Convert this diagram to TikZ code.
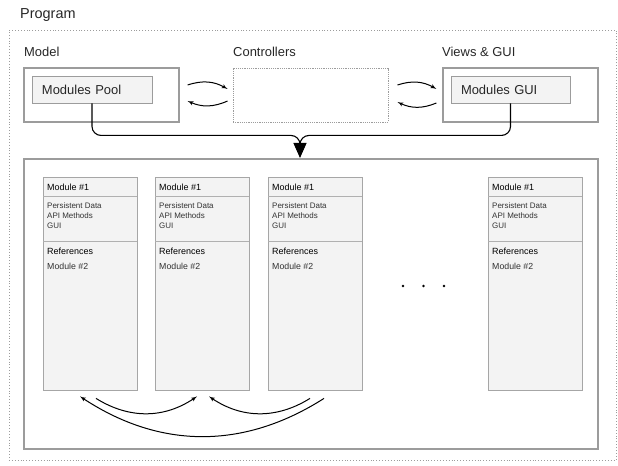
\documentclass[tikz,border=0pt]{standalone}
\usepackage{fontspec}
\setmainfont{Liberation Sans}
\usepackage{tikz}
\usetikzlibrary{arrows,arrows.meta,positioning,shapes,calc}

\definecolor{linegray}{HTML}{9C9C9C}
\definecolor{boxfill}{HTML}{F3F3F3}

\begin{document}
\begin{tikzpicture}[x=1bp,y=1bp,>=latex',auto,
    title/.style={anchor=base west,inner sep=0pt,text=black!85,font=\fontsize{13}{15}\selectfont},
    frame/.style={draw=linegray,line width=1.2bp,minimum width=155bp,minimum height=54bp,inner sep=0pt},
    inner/.style={draw=linegray,fill=boxfill,line width=0.9bp,minimum height=27bp,inner sep=0pt,
      text=black!85,font=\fontsize{13}{15}\selectfont},
    column/.style={draw=linegray!90,fill=boxfill,line width=0.8bp,minimum width=94bp,minimum height=213bp,inner sep=0pt},
    head/.style={anchor=base west,inner sep=0pt,text=black,font=\fontsize{9}{11}\selectfont},
    item/.style={anchor=base west,inner sep=0pt,text=black!80,font=\fontsize{8}{10}\selectfont},
    every edge/.style={draw,->,line width=1bp}]

  \useasboundingbox (0,0) rectangle (618,-466);

  % program frame
  \node[anchor=base west,inner sep=0pt,text=black!85,font=\fontsize{14.5}{16}\selectfont] (program) at (20,-19) {Program};
  \node[draw=linegray,dotted,line width=0.9bp,minimum width=607bp,minimum height=430bp,inner sep=0pt] (prog) at (312.5,-245) {};

  % model, controllers, views
  \node[title] (modeltxt) at (24,-57) {Model};
  \node[frame] (model) at (101.5,-95) {};
  \node[inner,minimum width=120bp,text width=100bp] (pool) at (92,-89.5) {Modules Pool};

  \node[title] (ctrltxt) at (233,-57) {Controllers};
  \node[frame,densely dotted,line width=0.9bp] (ctrl) at (310.5,-95) {};

  \node[title] (viewtxt) at (442,-57) {Views \& GUI};
  \node[frame] (views) at (520.5,-95) {};
  \node[inner,minimum width=119bp,text width=99bp] (gui) at (510.5,-89.5) {Modules GUI};

  \path ([shift={(8,10)}]model.east) edge[bend left=24] ([shift={(-5,6)}]ctrl.west)
        ([shift={(-5,-6)}]ctrl.west) edge[bend left=24] ([shift={(8,-6)}]model.east)
        ([shift={(9,10)}]ctrl.east) edge[bend left=24] ([shift={(-6,6)}]views.west)
        ([shift={(-6,-8)}]views.west) edge[bend left=24] ([shift={(9,-7)}]ctrl.east);

  % modules pool
  \node[draw=linegray,line width=1.4bp,minimum width=574bp,minimum height=290bp,inner sep=0pt] (modules) at (311,-304) {};
  \coordinate (join) at (300,-158);
  \coordinate (neck) at (300,-144);

  \draw[line width=1.1bp,rounded corners=9bp] (pool.south) -- ++(0,-32) -| (neck);
  \draw[line width=1.1bp,rounded corners=9bp] (gui.south) -- ++(0,-32) -| (neck);
  \draw[line width=1.1bp,-{Triangle[length=15bp,width=13bp]}] ([yshift=1]neck) -- (join);

  \foreach \x/\n in {43/a,155/b,268/c,488/d}{
    \node[column] (col\n) at (\x+47,-283.5) {};
    \draw[linegray!80,line width=0.7bp] (\x,-196) -- (\x+94,-196);
    \draw[linegray!80,line width=0.7bp] (\x,-241) -- (\x+94,-241);
    \node[head] (name\n) at (\x+4,-190.5) {Module \#1};
    \node[item] (data\n) at (\x+4,-209) {Persistent Data};
    \node[item] (api\n) at (\x+4,-219) {API Methods};
    \node[item] (gui\n) at (\x+4,-229) {GUI};
    \node[head] (refs\n) at (\x+4,-255) {References};
    \node[item,font=\fontsize{8.8}{10}\selectfont] (ref\n) at (\x+4,-270) {Module \#2};
  }

  \foreach \x [count=\i] in {403,423.5,444}
    \fill (\x,-286) circle (1.3bp) coordinate (dot\i);

  \path ([shift={(6,-8)}]cola.south) edge[bend right=33] ([shift={(-5,-6)}]colb.south)
        ([shift={(-5,-8)}]colc.south) edge[bend left=33] ([shift={(7,-6)}]colb.south)
        ([shift={(9,-8)}]colc.south) edge[bend left=33] ([shift={(-10,-6)}]cola.south);

\end{tikzpicture}
\end{document}
